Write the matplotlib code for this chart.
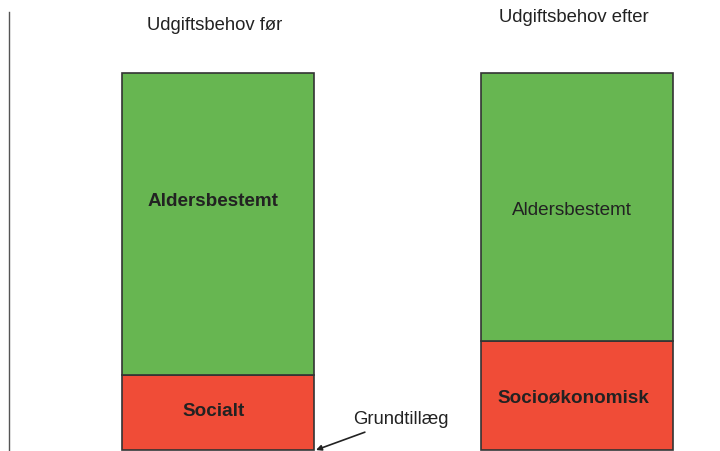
import matplotlib
matplotlib.use("Agg")
import matplotlib.pyplot as plt

plt.rcParams['font.family'] = ['Liberation Sans', 'DejaVu Sans']

categories = ["Udgiftsbehov før", "Udgiftsbehov efter"]
bottom_labels = ["Socialt", "Socioøkonomisk"]
top_labels = ["Aldersbestemt", "Aldersbestemt"]
bottom_values = [20, 29]
top_values = [80, 71]
top_bold = [True, False]
annotation_text = "Grundtillæg"

green = "#67B651"
red = "#F04C37"
edge = "#333333"

fig = plt.figure(figsize=(7.2, 4.52), dpi=100)
ax = fig.add_axes([0, 0, 1, 1])
px_y = 100 / 377.0
ax.set_ylim(-1 * px_y, 451 * px_y)
px_x = 1 / 359.0
ax.set_xlim(-218 * px_x, (720 - 218) * px_x)
ax.axis("off")

x = list(range(len(categories)))
width = 192 * px_x
ax.bar(x, bottom_values, width=width, color=red, edgecolor=edge, linewidth=1.2)
ax.bar(x, top_values, bottom=bottom_values, width=width, color=green, edgecolor=edge, linewidth=1.2)

# category titles
title_y = [(451 - 25) * px_y, (451 - 17) * px_y]
for i, c in enumerate(categories):
    ax.text(x[i] - 3 * px_x, title_y[i], c, ha="center", va="center", fontsize=13.3, color="#222222")

# segment labels
top_label_y = [(451 - 202) * px_y, (451 - 211) * px_y]
bot_label_y = [(451 - 412) * px_y, (451 - 398) * px_y]
for i in x:
    ax.text(x[i] - 5 * px_x, top_label_y[i], top_labels[i], ha="center", va="center",
            fontsize=13.6, fontweight="bold" if top_bold[i] else "normal", color="#222222")
    ax.text(x[i] - 4 * px_x, bot_label_y[i], bottom_labels[i], ha="center", va="center",
            fontsize=13.6, fontweight="bold", color="#222222")

# annotation
ax.annotate(annotation_text, xy=(x[0] + width / 2 + 2 * px_x, 0),
            xytext=(x[0] + 183 * px_x, (451 - 420) * px_y),
            ha="center", va="center", fontsize=13.3, color="#222222",
            arrowprops=dict(arrowstyle="-|>", color="#222222", lw=1.2,
                            shrinkA=4, shrinkB=0, mutation_scale=8))

# vertical line on the left
ax.plot([-209 * px_x, -209 * px_x], [-1 * px_y, (451 - 13) * px_y], color="#555555", lw=1.0)

fig.savefig("out.png", dpi=100)
